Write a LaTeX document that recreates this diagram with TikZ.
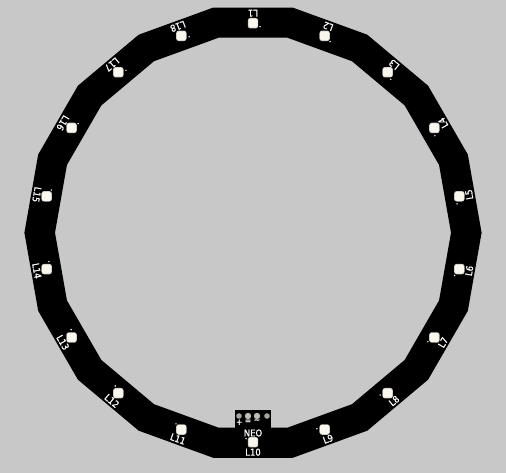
\documentclass[tikz,border=0pt]{standalone}
\usepackage{fontspec}
\setmainfont[FakeBold=1.2]{DejaVu Sans Condensed}
\definecolor{bggray}{RGB}{200,200,200}
\definecolor{ledwhite}{RGB}{250,248,238}
\definecolor{padgray}{RGB}{165,165,160}
\definecolor{padlight}{RGB}{190,190,185}
\tikzset{
  x=1pt,y=-1pt,
  ledhalo/.style={fill=ledwhite!80!black,draw=none,rounded corners=2.5pt,minimum size=10.4pt,inner sep=0pt},
  ledbox/.style={fill=ledwhite,draw=none,rounded corners=1.5pt,minimum size=9pt,inner sep=0pt},
  leddot/.style={fill=white,draw=none,circle,inner sep=0pt,minimum size=1.6pt},
  silk/.style={text=white,font=\fontsize{9.4}{10}\selectfont,inner sep=0pt},
  silksmall/.style={text=white,font=\fontsize{8.5}{9}\selectfont,inner sep=0pt},
  padhole/.style={fill=padgray,draw=none,circle,inner sep=0pt,minimum size=5.6pt},
  padbig/.style={fill=padlight,draw=none,circle,inner sep=0pt,minimum size=6.4pt},
}
\begin{document}
\begin{tikzpicture}
\useasboundingbox (0,0) rectangle (506,473);
\fill[bggray] (0,0) rectangle (506,473);
\def\cx{253}\def\cy{232.7}
% ring
\fill[black,even odd rule]
  (\cx+228.6*sin 10,\cy-228.6*cos 10)
  \foreach \a in {30,50,...,350} { -- (\cx+228.6*sin \a,\cy-228.6*cos \a) } -- cycle
  (\cx+198*sin 10,\cy-198*cos 10)
  \foreach \a in {30,50,...,350} { -- (\cx+198*sin \a,\cy-198*cos \a) } -- cycle;
% connector tab
\fill[black] (235,410) rectangle (271,432);
% LEDs and labels
\foreach \k in {1,...,18} {
  \pgfmathsetmacro{\t}{(\k-1)*20}
  \pgfmathsetmacro{\r}{180-\t}
  \begin{scope}[shift={(\cx+209.5*sin \t,\cy-209.5*cos \t)},rotate=\r]
    \node[ledhalo] (halo\k) at (0,0) {};
    \node[ledbox] (led\k) at (0,0) {};
    \node[leddot] (dot\k) at (-7,-3.5) {};
  \end{scope}
  \node[silk,rotate=\r] (lab\k) at (\cx+219.5*sin \t,\cy-219.5*cos \t) {L\k};
}
% pads
\node[padhole] (p1) at (239,416) {};
\node[padbig] (p2) at (248,416) {};
\node[padbig] (p3) at (257,416) {};
\node[padhole] (p4) at (267,416) {};
\node[silk] (neo) at (253,433) {NEO};
\node[silksmall] (plus) at (239.3,422.3) {+};
\node[silksmall] (minus) at (248,421.7) {=};
\node[silksmall] (tilde) at (257,421) {\textasciitilde};
\end{tikzpicture}
\end{document}
